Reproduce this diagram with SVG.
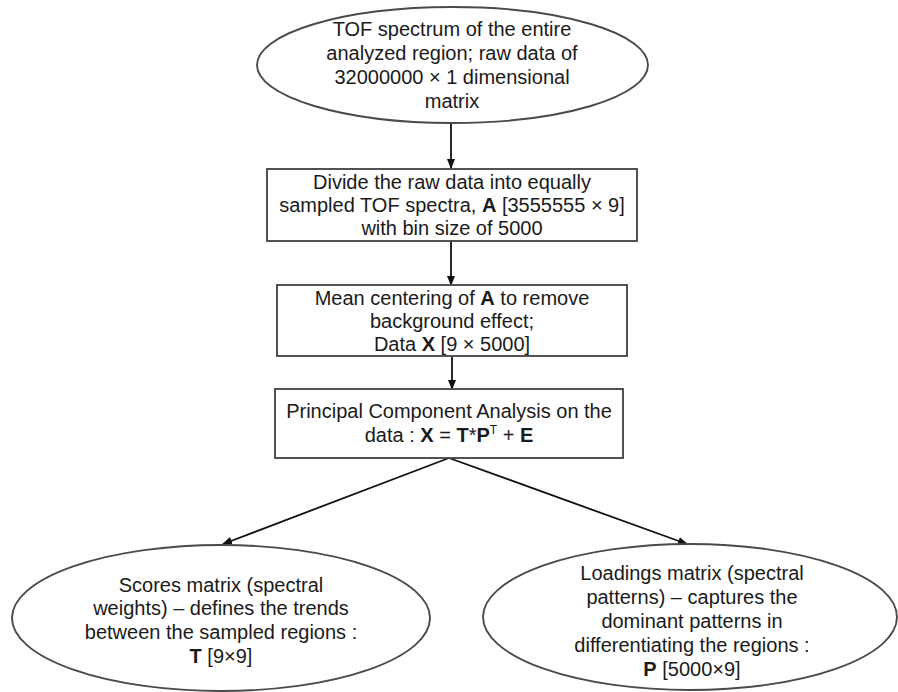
<svg xmlns="http://www.w3.org/2000/svg" width="898" height="692" viewBox="0 0 898 692">
<defs>
<marker id="ah" markerWidth="10" markerHeight="8" refX="9" refY="4" orient="auto" markerUnits="userSpaceOnUse">
<path d="M0,0 L10,4 L0,8 Z" fill="#111"/>
</marker>
<style>
.n{fill:#fff;stroke:#4a4a4a;stroke-width:1.9}
.b{fill:#fff;stroke:#4a4a4a;stroke-width:1.9}
text{font-family:"Liberation Sans",Arial,sans-serif;font-size:20px;fill:#1a1a1a;text-anchor:middle}
.bd{font-weight:bold}
.c line{stroke:#111;stroke-width:1.8;marker-end:url(#ah)}
</style>
</defs>
<rect width="898" height="692" fill="#fff"/>
<g class="c" id="connectors">
<line x1="451" y1="124" x2="451" y2="168"/>
<line x1="451" y1="242" x2="451" y2="285"/>
<line x1="452" y1="357" x2="452" y2="389"/>
<line x1="449" y1="458" x2="223" y2="544"/>
<line x1="449" y1="458" x2="687" y2="544"/>
</g>
<g id="n1">
<ellipse class="n" cx="452.5" cy="65" rx="195.5" ry="58"/>
<text x="452" y="36">TOF spectrum of the entire</text>
<text x="452" y="60">analyzed region; raw data of</text>
<text x="452" y="84">32000000 × 1 dimensional</text>
<text x="452" y="108">matrix</text>
</g>
<g id="n2">
<rect class="b" x="267" y="169" width="370" height="72"/>
<text x="452" y="189">Divide the raw data into equally</text>
<text x="452" y="212">sampled TOF spectra, <tspan class="bd">A</tspan> [3555555 × 9]</text>
<text x="452" y="235">with bin size of 5000</text>
</g>
<g id="n3">
<rect class="b" x="277" y="285" width="350" height="71"/>
<text x="452" y="305">Mean centering of <tspan class="bd">A</tspan> to remove</text>
<text x="452" y="328">background effect;</text>
<text x="452" y="351">Data <tspan class="bd">X</tspan> [9 × 5000]</text>
</g>
<g id="n4">
<rect class="b" x="275" y="389" width="348" height="69"/>
<text x="449" y="418">Principal Component Analysis on the</text>
<text x="449" y="442">data : <tspan class="bd">X</tspan> = <tspan class="bd">T</tspan>*<tspan class="bd">P</tspan><tspan font-size="12" dy="-8">T</tspan><tspan dy="8"> + </tspan><tspan class="bd">E</tspan></text>
</g>
<g id="n5">
<ellipse class="n" cx="221" cy="618" rx="209" ry="73"/>
<text x="221" y="592">Scores matrix (spectral</text>
<text x="221" y="615">weights) – defines the trends</text>
<text x="221" y="639">between the sampled regions :</text>
<text x="221" y="663"><tspan class="bd">T</tspan> [9×9]</text>
</g>
<g id="n6">
<ellipse class="n" cx="690" cy="617" rx="207" ry="73"/>
<text x="692" y="580">Loadings matrix (spectral</text>
<text x="692" y="604">patterns) – captures the</text>
<text x="692" y="628">dominant patterns in</text>
<text x="692" y="652">differentiating the regions :</text>
<text x="692" y="676"><tspan class="bd">P</tspan> [5000×9]</text>
</g>
</svg>
